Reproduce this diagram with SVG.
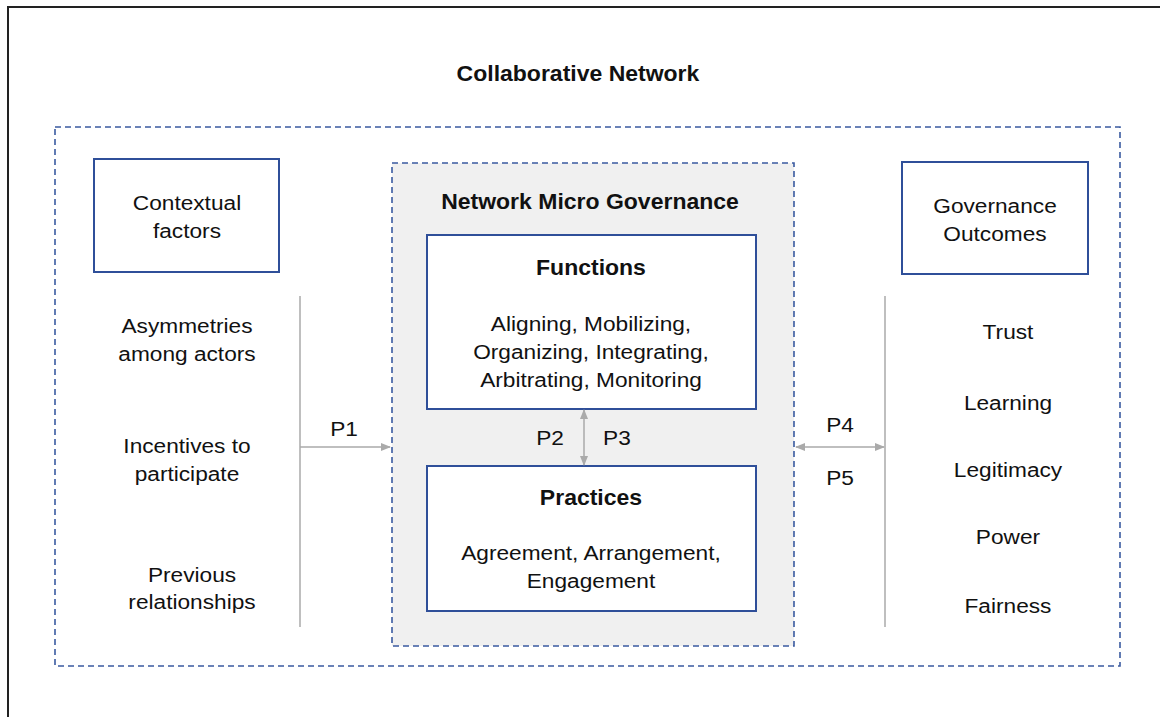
<svg xmlns="http://www.w3.org/2000/svg" width="1160" height="717" viewBox="0 0 1160 717">
<style>
text{font-family:"Liberation Sans",Arial,sans-serif;font-size:21px;fill:#111;text-anchor:middle;transform-box:fill-box;transform-origin:center;transform:scaleX(1.08)}
.b{font-weight:bold;font-size:21.3px}
.box{fill:#fff;stroke:#2f4f99;stroke-width:2}
.dash{stroke:#3a5aa0;stroke-width:1.6;stroke-dasharray:6,4}
.gl{stroke:#aaa;stroke-width:1.5;fill:none}
</style>
<defs>
<marker id="ah" viewBox="0 0 10 10" refX="9" refY="5" markerWidth="10" markerHeight="10" markerUnits="userSpaceOnUse" orient="auto-start-reverse"><path d="M0,1 L10,5 L0,9 Z" fill="#aaa"/></marker>
</defs>
<rect width="1160" height="717" fill="#fff"/>
<rect x="8" y="7" width="1170" height="730" fill="none" stroke="#222" stroke-width="2"/>
<text class="b" x="578" y="81">Collaborative Network</text>
<g id="collab-network"><rect x="55" y="127" width="1065" height="539" fill="none" class="dash"/></g>
<g id="micro-governance">
<rect x="392" y="163" width="402" height="483" fill="#f0f0f0" class="dash"/>
<text class="b" x="590" y="209">Network Micro Governance</text>
</g>
<g id="contextual">
<rect x="94" y="159" width="185" height="113" class="box"/>
<text x="187" y="210">Contextual</text>
<text x="187" y="238">factors</text>
</g>
<g id="outcomes">
<rect x="902" y="162" width="186" height="112" class="box"/>
<text x="995" y="213">Governance</text>
<text x="995" y="241">Outcomes</text>
</g>
<g id="functions">
<rect x="427" y="235" width="329" height="174" class="box"/>
<text class="b" x="591" y="275">Functions</text>
<text x="591" y="331">Aligning, Mobilizing,</text>
<text x="591" y="359">Organizing, Integrating,</text>
<text x="591" y="387">Arbitrating, Monitoring</text>
</g>
<g id="practices">
<rect x="427" y="466" width="329" height="145" class="box"/>
<text class="b" x="591" y="505">Practices</text>
<text x="591" y="560">Agreement, Arrangement,</text>
<text x="591" y="588">Engagement</text>
</g>
<g id="context-factors">
<text x="187" y="333">Asymmetries</text>
<text x="187" y="361">among actors</text>
<text x="187" y="453">Incentives to</text>
<text x="187" y="481">participate</text>
<text x="192" y="582">Previous</text>
<text x="192" y="609">relationships</text>
</g>
<g id="outcome-list">
<text x="1008" y="339">Trust</text>
<text x="1008" y="410">Learning</text>
<text x="1008" y="477">Legitimacy</text>
<text x="1008" y="544">Power</text>
<text x="1008" y="613">Fairness</text>
</g>
<g id="connectors">
<line x1="300" y1="296" x2="300" y2="627" class="gl"/>
<line x1="885" y1="296" x2="885" y2="627" class="gl"/>
<line x1="300" y1="447" x2="390" y2="447" class="gl" marker-end="url(#ah)"/>
<line x1="796" y1="447" x2="884" y2="447" class="gl" marker-start="url(#ah)" marker-end="url(#ah)"/>
<line x1="584" y1="410" x2="584" y2="465" class="gl" marker-start="url(#ah)" marker-end="url(#ah)"/>
<text x="344" y="436">P1</text>
<text x="550" y="445">P2</text>
<text x="617" y="445">P3</text>
<text x="840" y="432">P4</text>
<text x="840" y="485">P5</text>
</g>
</svg>
